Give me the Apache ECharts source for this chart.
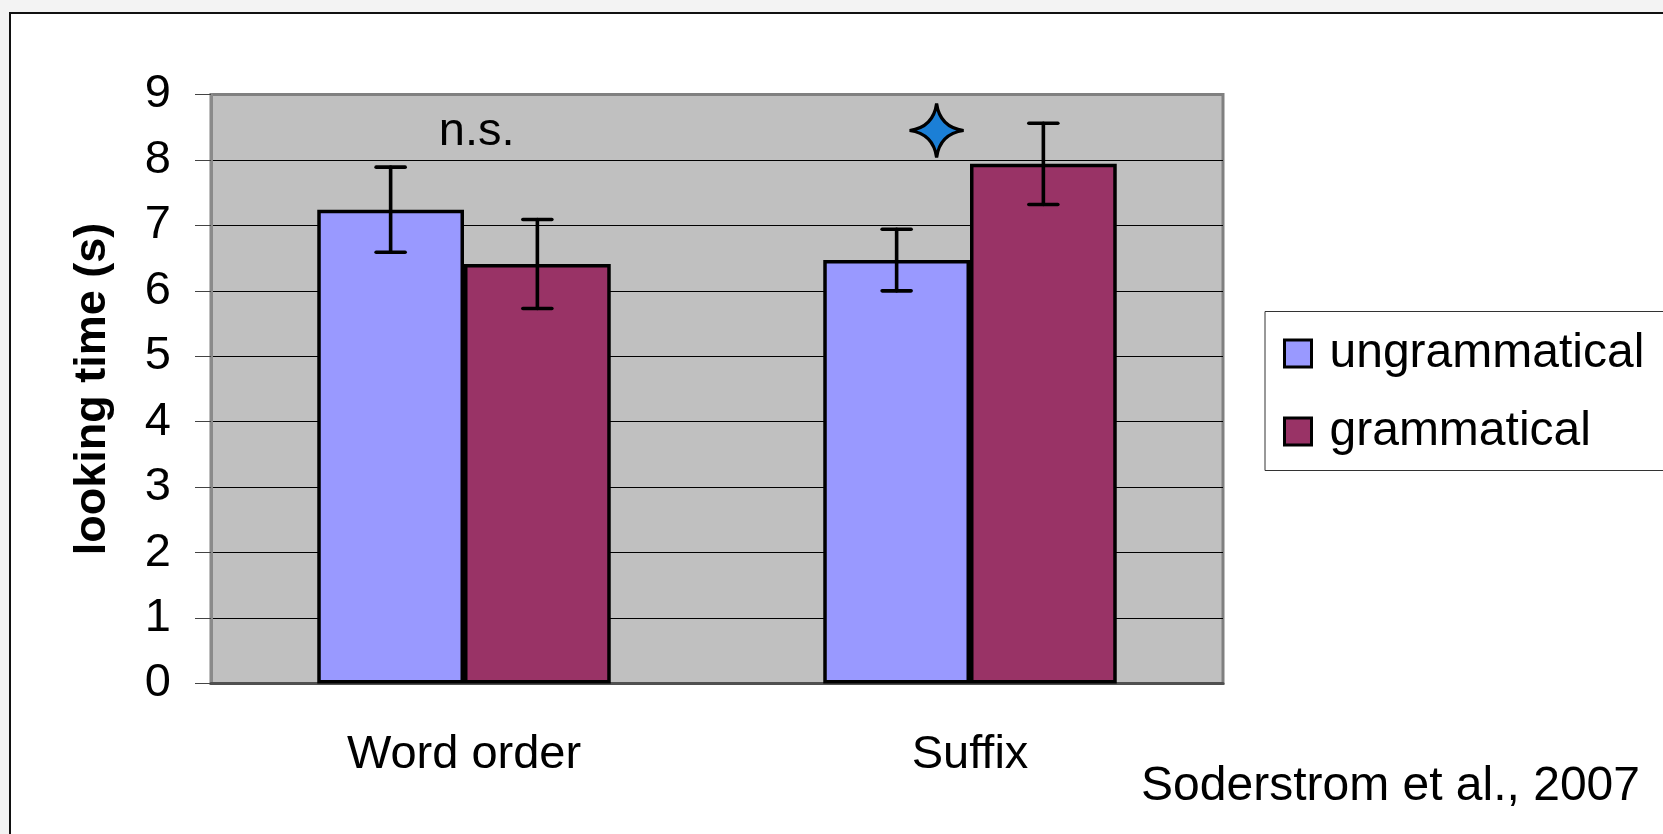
<!DOCTYPE html>
<html>
<head>
<meta charset="utf-8">
<title>Looking time by condition</title>
<style>
  html, body { margin: 0; padding: 0; width: 1663px; height: 834px; overflow: hidden; background: #f3f3f3; }
  #frame { position: absolute; left: 9px; top: 12px; width: 1700px; height: 900px; background: #fff; border: 2px solid #111; }
  #chart { position: absolute; left: 0; top: 0; width: 1663px; height: 834px; }
</style>
<script src="https://cdn.jsdelivr.net/npm/echarts@6/dist/echarts.min.js"></script>
</head>
<body>
<div id="frame"></div>
<div id="chart"></div>
<script>
// Mean looking times (s) per condition, with error-bar half-widths
const categories = ['Word order', 'Suffix'];
const seriesNames = ['ungrammatical', 'grammatical'];
const ungrammatical = [7.24, 6.47];
const grammatical = [6.41, 7.94];
const ungrammaticalErr = [0.65, 0.47];
const grammaticalErr = [0.68, 0.62];
const yTicks = [0, 1, 2, 3, 4, 5, 6, 7, 8, 9];
// Significance annotations above each category
const sigMarks = ['n.s.', 'star'];
const sigLevel = [8.42, 8.45];
const citation = 'Soderstrom et al., 2007';

const FONT = '"Liberation Sans", Arial, Helvetica, sans-serif';
const CAT_GAP = 0.42;   // barCategoryGap as a fraction
const colors = ['#9999FF', '#993366'];

const chart = echarts.init(document.getElementById('chart'), null, { renderer: 'canvas' });

function errorSeries(name, values, errs, side) {
  return {
    name: name,
    type: 'custom',
    data: values.map((v, i) => [i, v - errs[i], v + errs[i]]),
    encode: { x: 0, y: [1, 2] },
    z: 10,
    silent: true,
    renderItem: function (params, api) {
      const cat = api.value(0);
      const lo = api.coord([cat, api.value(1)]);
      const hi = api.coord([cat, api.value(2)]);
      const band = api.size([1, 0])[0];
      const barW = band * (1 - CAT_GAP) / 2;
      const x = lo[0] + side * barW / 2;
      const cap = 14.5;
      const st = { stroke: '#000', lineWidth: 3.6, lineCap: 'round' };
      return {
        type: 'group',
        children: [
          { type: 'line', shape: { x1: x, y1: lo[1], x2: x, y2: hi[1] }, style: st },
          { type: 'line', shape: { x1: x - cap, y1: hi[1], x2: x + cap, y2: hi[1] }, style: st },
          { type: 'line', shape: { x1: x - cap, y1: lo[1], x2: x + cap, y2: lo[1] }, style: st }
        ]
      };
    }
  };
}

const sigSeries = {
  name: 'significance',
  type: 'custom',
  data: sigLevel.map((v, i) => [i, v]),
  z: 10,
  silent: true,
  renderItem: function (params, api) {
    const i = params.dataIndex;
    const p = api.coord([api.value(0), api.value(1)]);
    const band = api.size([1, 0])[0];
    if (sigMarks[i] === 'star') {
      // four-pointed star with concave sides
      const cx = p[0] - 0.066 * band;
      const r = 27;
      return {
        type: 'path',
        shape: {
          pathData: 'M0,-29 Q3.5,-3.5 29,0 Q3.5,3.5 0,29 Q-3.5,3.5 -29,0 Q-3.5,-3.5 0,-29 Z',
          x: cx - r, y: p[1] - r, width: 2 * r, height: 2 * r
        },
        style: { fill: '#1b7fd6', stroke: '#000', lineWidth: 3.2, lineJoin: 'miter', miterLimit: 2 }
      };
    }
    return {
      type: 'text',
      style: {
        text: sigMarks[i],
        x: p[0] + 0.025 * band,
        y: p[1],
        align: 'center',
        verticalAlign: 'middle',
        fontSize: 47,
        fontFamily: FONT,
        fill: '#000'
      }
    };
  }
};

// Grid lines are black except the one that meets the top frame
const splitColors = yTicks.map((t, i) => (i === yTicks.length - 1 ? '#808080' : '#000'));

const option = {
  animation: false,
  backgroundColor: 'transparent',
  textStyle: { fontFamily: FONT },
  grid: {
    left: 211, top: 94.5, right: 440, bottom: 150.5,
    show: true, backgroundColor: '#C0C0C0', borderColor: '#808080', borderWidth: 3
  },
  legend: {
    data: seriesNames,
    orient: 'vertical',
    left: 1265, top: 311.5,
    backgroundColor: '#fff',
    borderColor: '#333', borderWidth: 1,
    padding: [18, 28, 15, 18],
    itemWidth: 27, itemHeight: 27, itemGap: 30,
    icon: 'rect',
    itemStyle: { borderColor: '#000', borderWidth: 3 },
    textStyle: { fontSize: 48, lineHeight: 46, fontFamily: FONT, color: '#000', padding: [0, 0, 0, 13] },
    selectedMode: false
  },
  xAxis: {
    type: 'category',
    data: categories,
    axisLine: { lineStyle: { color: '#505050', width: 3 } },
    axisTick: { length: 16, lineStyle: { color: '#505050', width: 2 } },
    axisLabel: { fontSize: 47, color: '#000', margin: 48, fontFamily: FONT }
  },
  yAxis: {
    type: 'value',
    min: 0, max: 9, interval: 1,
    name: 'looking time (s)',
    nameLocation: 'middle',
    nameGap: 96,
    nameTextStyle: { fontSize: 45, fontWeight: 'bold', color: '#000', fontFamily: FONT },
    axisLine: { show: true, lineStyle: { color: '#8a8a8a', width: 3 } },
    axisTick: { show: true, length: 16, lineStyle: { color: '#444', width: 1 } },
    axisLabel: { fontSize: 47, color: '#000', margin: 40, fontFamily: FONT, padding: [0, 0, 10, 0] },
    splitLine: { show: true, lineStyle: { color: splitColors, width: 1 } }
  },
  series: [
    {
      name: seriesNames[0], type: 'bar', data: ungrammatical,
      barGap: '0%', barCategoryGap: (CAT_GAP * 100) + '%',
      itemStyle: { color: colors[0], borderColor: '#000', borderWidth: 3.5 }
    },
    {
      name: seriesNames[1], type: 'bar', data: grammatical,
      barGap: '0%', barCategoryGap: (CAT_GAP * 100) + '%',
      itemStyle: { color: colors[1], borderColor: '#000', borderWidth: 3.5 }
    },
    errorSeries('ungrammatical error', ungrammatical, ungrammaticalErr, -1),
    errorSeries('grammatical error', grammatical, grammaticalErr, 1),
    sigSeries
  ],
  graphic: [
    {
      type: 'text',
      style: {
        text: citation, x: 1640, y: 787,
        align: 'right', verticalAlign: 'middle',
        fontSize: 48, fontFamily: FONT, fill: '#000'
      }
    }
  ]
};

chart.setOption(option);
</script>
</body>
</html>
